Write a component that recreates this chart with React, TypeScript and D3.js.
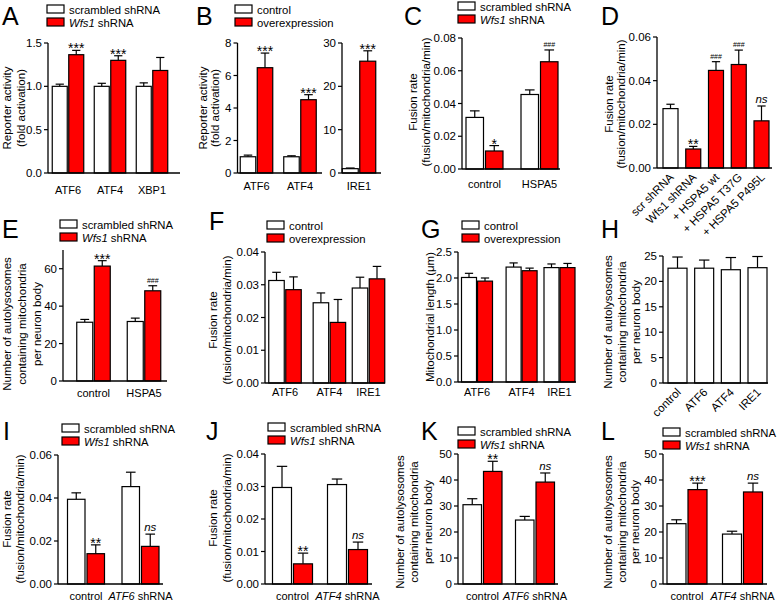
import React from "react";
import * as d3 from "d3";

const FONT = "'Liberation Sans', Arial, Helvetica, sans-serif";
const RED = "#ff0000";
const WHITE = "#ffffff";

// ---------- data ----------
// A
const aCats = ["ATF6", "ATF4", "XBP1"];
const aScr = [1.0, 1.0, 1.0];
const aScrErr = [0.025, 0.035, 0.04];
const aWfs = [1.365, 1.3, 1.183];
const aWfsErr = [0.05, 0.053, 0.15];
const aWfsSig = ["***", "***", ""];
// B
const bCats = ["ATF6", "ATF4"];
const bCtl = [1.0, 1.0];
const bCtlErr = [0.1, 0.06];
const bOe = [6.48, 4.51];
const bOeErr = [0.9, 0.31];
const bOeSig = ["***", "***"];
const b2Cats = ["IRE1"];
const b2Ctl = [1.0];
const b2CtlErr = [0.15];
const b2Oe = [25.8];
const b2OeErr = [2.4];
const b2OeSig = ["***"];
// C
const cCats = ["control", "HSPA5"];
const cScr = [0.0315, 0.0455];
const cScrErr = [0.004, 0.0028];
const cWfs = [0.011, 0.0655];
const cWfsErr = [0.0033, 0.0072];
const cWfsSig = ["*", "###"];
// D
const dCats = ["scr shRNA", "Wfs1 shRNA", "+ HSPA5 wt", "+ HSPA5 T37G", "+ HSPA5 P495L"];
const dVals = [0.0272, 0.0087, 0.0447, 0.0474, 0.0216];
const dErr = [0.002, 0.0012, 0.004, 0.0066, 0.0068];
const dSig = ["", "**", "###", "###", "ns"];
// E
const eCats = ["control", "HSPA5"];
const eScr = [31.4, 31.8];
const eScrErr = [1.5, 1.8];
const eWfs = [61.4, 48.2];
const eWfsErr = [2.9, 2.7];
const eWfsSig = ["***", "###"];
// F
const fCats = ["ATF6", "ATF4", "IRE1"];
const fCtl = [0.0313, 0.0245, 0.029];
const fCtlErr = [0.0025, 0.003, 0.0033];
const fOe = [0.0285, 0.0185, 0.0318];
const fOeErr = [0.0039, 0.007, 0.0038];
// G
const gCats = ["ATF6", "ATF4", "IRE1"];
const gCtl = [2.01, 2.21, 2.2];
const gCtlErr = [0.08, 0.08, 0.07];
const gOe = [1.94, 2.14, 2.2];
const gOeErr = [0.06, 0.05, 0.08];
// H
const hCats = ["control", "ATF6", "ATF4", "IRE1"];
const hVals = [22.6, 22.6, 22.3, 22.7];
const hErr = [2.2, 1.6, 2.4, 2.2];
// I
const iCats = ["control", "_ATF6_ shRNA"];
const iScr = [0.0394, 0.0453];
const iScrErr = [0.003, 0.0067];
const iWfs = [0.0141, 0.0175];
const iWfsErr = [0.0041, 0.0057];
const iWfsSig = ["**", "ns"];
// J
const jCats = ["control", "_ATF4_ shRNA"];
const jScr = [0.0297, 0.0306];
const jScrErr = [0.0065, 0.0017];
const jWfs = [0.0062, 0.0106];
const jWfsErr = [0.0033, 0.0023];
const jWfsSig = ["**", "ns"];
// K
const kCats = ["control", "_ATF6_ shRNA"];
const kScr = [30.5, 24.6];
const kScrErr = [2.3, 1.4];
const kWfs = [43.3, 39.2];
const kWfsErr = [3.9, 3.5];
const kWfsSig = ["**", "ns"];
// L
const lCats = ["control", "_ATF4_ shRNA"];
const lScr = [23.2, 19.2];
const lScrErr = [1.5, 1.1];
const lWfs = [36.3, 35.4];
const lWfsErr = [2.5, 3.4];
const lWfsSig = ["***", "ns"];

const LEG_SH = ["scrambled shRNA", "_Wfs1_ shRNA"];
const LEG_OE = ["control", "overexpression"];
const TITLE_FUSION = ["Fusion rate", "(fusion/mitochondria/min)"];
const TITLE_AUTO = ["Number of autolysosomes", "containing mitochondria", "per neuron body"];
const TITLE_REP = ["Reporter activity", "(fold activation)"];

// ---------- helpers ----------
function rich(s: string) {
  return s.split("_").map((p, i) =>
    p ? (
      <tspan key={i} fontStyle={i % 2 === 1 ? "italic" : "normal"}>
        {p}
      </tspan>
    ) : null
  );
}

type Series = { values: number[]; errs: number[]; fill: string | string[]; sig?: string[] };
type Spec = {
  letter?: { t: string; x: number; y: number };
  legend?: { x: number; y: number; labels: string[] };
  title?: { lines: string[]; xs: number[]; cy: number };
  ax: number; x1: number; top: number; bottom: number; max: number;
  ticks: number[]; fmt: string;
  cats: string[]; c0: number; c1: number; slots?: number[];
  barW: number; gap: number; series: Series[];
  labelY?: number; rotate?: boolean;
};

function Panel({ s }: { s: Spec }) {
  const y = d3.scaleLinear().domain([0, s.max]).range([s.bottom, s.top]);
  const slots = s.slots ?? s.cats.map((_, i) => i);
  const lastSlot = slots[slots.length - 1] || 1;
  const cx = d3.scaleLinear().domain([0, lastSlot]).range([s.c0, s.c1]);
  const fmt = d3.format(s.fmt);
  const nS = s.series.length;
  const totalW = nS * s.barW + (nS - 1) * s.gap;
  const out: React.ReactNode[] = [];

  s.cats.forEach((cat, i) => {
    const c = cx(slots[i]);
    s.series.forEach((ser, j) => {
      const v = ser.values[i];
      const e = ser.errs[i];
      const x = c - totalW / 2 + j * (s.barW + s.gap);
      const bc = x + s.barW / 2;
      const fill = Array.isArray(ser.fill) ? ser.fill[i] : ser.fill;
      const yt = y(v + e);
      const capW = s.barW * 0.55;
      out.push(
        <g key={`b${i}-${j}`}>
          <line x1={bc} x2={bc} y1={y(v)} y2={yt} stroke="#000" strokeWidth={1.2} />
          <line x1={bc - capW / 2} x2={bc + capW / 2} y1={yt} y2={yt} stroke="#000" strokeWidth={1.2} />
          <rect x={x} y={y(v)} width={s.barW} height={s.bottom - y(v)} fill={fill} stroke="#000" strokeWidth={1.2} />
        </g>
      );
      const sig = ser.sig ? ser.sig[i] : "";
      if (sig) {
        let el;
        if (sig.includes("#")) {
          el = <text x={bc} y={yt - 3} fontSize={7} textAnchor="middle">{sig}</text>;
        } else if (sig === "ns") {
          el = <text x={bc} y={yt - 3} fontSize={11.5} fontStyle="italic" textAnchor="middle">{sig}</text>;
        } else {
          el = <text x={bc} y={yt + 3} fontSize={14} textAnchor="middle">{sig}</text>;
        }
        out.push(<g key={`s${i}-${j}`}>{el}</g>);
      }
    });
    if (s.rotate) {
      out.push(
        <text key={`l${i}`} transform={`translate(${c + 4},${s.bottom + 10}) rotate(-45)`} fontSize={11.5} textAnchor="end">
          {rich(cat)}
        </text>
      );
    } else {
      out.push(
        <text key={`l${i}`} x={c} y={s.labelY} fontSize={11} textAnchor="middle">
          {rich(cat)}
        </text>
      );
    }
  });

  return (
    <g fontFamily={FONT} fill="#000">
      {s.letter && (
        <text x={s.letter.x} y={s.letter.y} fontSize={25}>
          {s.letter.t}
        </text>
      )}
      {s.legend &&
        s.legend.labels.map((lab, k) => (
          <g key={`lg${k}`}>
            <rect x={s.legend!.x} y={s.legend!.y + k * 13} width={17} height={8} fill={k === 0 ? WHITE : RED} stroke="#000" strokeWidth={1.2} />
            <text x={s.legend!.x + 22} y={s.legend!.y + k * 13 + 9} fontSize={11.3}>
              {rich(lab)}
            </text>
          </g>
        ))}
      {s.title &&
        s.title.lines.map((ln, k) => (
          <text key={`t${k}`} transform={`translate(${s.title!.xs[k]},${s.title!.cy}) rotate(-90)`} dy="0.35em" fontSize={11.5} textAnchor="middle">
            {ln}
          </text>
        ))}
      {out}
      <line x1={s.ax} x2={s.ax} y1={s.top} y2={s.bottom} stroke="#000" strokeWidth={1.3} />
      <line x1={s.ax} x2={s.x1} y1={s.bottom} y2={s.bottom} stroke="#000" strokeWidth={1.3} />
      {s.ticks.map((t) => (
        <g key={`tk${t}`}>
          <line x1={s.ax - 4} x2={s.ax} y1={y(t)} y2={y(t)} stroke="#000" strokeWidth={1.2} />
          <text x={s.ax - 6} y={y(t)} dy="0.35em" fontSize={11.5} textAnchor="end">
            {fmt(t)}
          </text>
        </g>
      ))}
    </g>
  );
}

const specs: Spec[] = [
  {
    letter: { t: "A", x: 2, y: 25 }, legend: { x: 47, y: 5, labels: LEG_SH },
    title: { lines: TITLE_REP, xs: [7, 21], cy: 108 },
    ax: 48, x1: 180, top: 43, bottom: 173, max: 1.5, ticks: [0, 0.5, 1, 1.5], fmt: ".1f",
    cats: aCats, c0: 68, c1: 152, barW: 15, gap: 1.5, labelY: 194,
    series: [
      { values: aScr, errs: aScrErr, fill: WHITE },
      { values: aWfs, errs: aWfsErr, fill: RED, sig: aWfsSig },
    ],
  },
  {
    letter: { t: "B", x: 196, y: 25 }, legend: { x: 235, y: 5, labels: LEG_OE },
    title: { lines: TITLE_REP, xs: [203, 215], cy: 108 },
    ax: 237.5, x1: 322, top: 43, bottom: 173, max: 8, ticks: [0, 2, 4, 6, 8], fmt: "d",
    cats: bCats, c0: 256.5, c1: 300, barW: 15.5, gap: 1.5, labelY: 190,
    series: [
      { values: bCtl, errs: bCtlErr, fill: WHITE },
      { values: bOe, errs: bOeErr, fill: RED, sig: bOeSig },
    ],
  },
  {
    ax: 342, x1: 381, top: 43, bottom: 173, max: 30, ticks: [0, 10, 20, 30], fmt: "d",
    cats: b2Cats, c0: 359, c1: 359, barW: 16, gap: 1.5, labelY: 190,
    series: [
      { values: b2Ctl, errs: b2CtlErr, fill: WHITE },
      { values: b2Oe, errs: b2OeErr, fill: RED, sig: b2OeSig },
    ],
  },
  {
    letter: { t: "C", x: 404, y: 25 }, legend: { x: 458, y: 2, labels: LEG_SH },
    title: { lines: TITLE_FUSION, xs: [413, 426], cy: 102 },
    ax: 462, x1: 560, top: 38, bottom: 169, max: 0.08, ticks: [0, 0.02, 0.04, 0.06, 0.08], fmt: ".2f",
    cats: cCats, c0: 484.5, c1: 539.5, barW: 17.5, gap: 2, labelY: 188,
    series: [
      { values: cScr, errs: cScrErr, fill: WHITE },
      { values: cWfs, errs: cWfsErr, fill: RED, sig: cWfsSig },
    ],
  },
  {
    letter: { t: "D", x: 601, y: 25 },
    title: { lines: TITLE_FUSION, xs: [609, 621], cy: 104 },
    ax: 657, x1: 772, top: 37, bottom: 168, max: 0.06, ticks: [0, 0.02, 0.04, 0.06], fmt: ".2f",
    cats: dCats, c0: 670.5, c1: 761.5, barW: 15, gap: 0, rotate: true,
    series: [{ values: dVals, errs: dErr, fill: [WHITE, RED, RED, RED, RED], sig: dSig }],
  },
  {
    letter: { t: "E", x: 2, y: 238 }, legend: { x: 60, y: 220, labels: LEG_SH },
    title: { lines: TITLE_AUTO, xs: [7, 22, 37], cy: 324 },
    ax: 63, x1: 167, top: 250, bottom: 381, max: 70, ticks: [0, 20, 40, 60], fmt: "d",
    cats: eCats, c0: 93.5, c1: 144, barW: 16, gap: 1.5, labelY: 397,
    series: [
      { values: eScr, errs: eScrErr, fill: WHITE },
      { values: eWfs, errs: eWfsErr, fill: RED, sig: eWfsSig },
    ],
  },
  {
    letter: { t: "F", x: 209, y: 230 }, legend: { x: 267, y: 221, labels: LEG_OE },
    title: { lines: TITLE_FUSION, xs: [213, 227], cy: 320 },
    ax: 265, x1: 385, top: 252, bottom: 383, max: 0.04, ticks: [0, 0.01, 0.02, 0.03, 0.04], fmt: ".2f",
    cats: fCats, c0: 285, c1: 368.5, slots: [0, 1, 1.88], barW: 15.5, gap: 1.5, labelY: 396,
    series: [
      { values: fCtl, errs: fCtlErr, fill: WHITE },
      { values: fOe, errs: fOeErr, fill: RED },
    ],
  },
  {
    letter: { t: "G", x: 421, y: 238 }, legend: { x: 462, y: 221, labels: LEG_OE },
    title: { lines: ["Mitochondrial length (μm)"], xs: [430], cy: 317 },
    ax: 458, x1: 576, top: 252, bottom: 382, max: 2.5, ticks: [0, 0.5, 1, 1.5, 2, 2.5], fmt: ".1f",
    cats: gCats, c0: 477, c1: 559.5, slots: [0, 1, 1.85], barW: 15, gap: 1, labelY: 396,
    series: [
      { values: gCtl, errs: gCtlErr, fill: WHITE },
      { values: gOe, errs: gOeErr, fill: RED },
    ],
  },
  {
    letter: { t: "H", x: 601, y: 238 },
    title: { lines: TITLE_AUTO, xs: [608, 622, 636], cy: 322 },
    ax: 663, x1: 768, top: 256, bottom: 383, max: 25, ticks: [0, 5, 10, 15, 20, 25], fmt: "d",
    cats: hCats, c0: 677.5, c1: 757.5, barW: 19, gap: 0, rotate: true,
    series: [{ values: hVals, errs: hErr, fill: WHITE }],
  },
  {
    letter: { t: "I", x: 3, y: 440 }, legend: { x: 62, y: 424, labels: LEG_SH },
    title: { lines: TITLE_FUSION, xs: [7, 20], cy: 519 },
    ax: 58, x1: 163, top: 455, bottom: 584, max: 0.06, ticks: [0, 0.02, 0.04, 0.06], fmt: ".2f",
    cats: iCats, c0: 86, c1: 140.5, barW: 17.5, gap: 2, labelY: 600,
    series: [
      { values: iScr, errs: iScrErr, fill: WHITE },
      { values: iWfs, errs: iWfsErr, fill: RED, sig: iWfsSig },
    ],
  },
  {
    letter: { t: "J", x: 206, y: 440 }, legend: { x: 268, y: 423, labels: LEG_SH },
    title: { lines: TITLE_FUSION, xs: [213, 227], cy: 518 },
    ax: 265, x1: 372, top: 454, bottom: 584, max: 0.04, ticks: [0, 0.01, 0.02, 0.03, 0.04], fmt: ".2f",
    cats: jCats, c0: 292.5, c1: 347.5, barW: 19, gap: 2, labelY: 600,
    series: [
      { values: jScr, errs: jScrErr, fill: WHITE },
      { values: jWfs, errs: jWfsErr, fill: RED, sig: jWfsSig },
    ],
  },
  {
    letter: { t: "K", x: 421, y: 440 }, legend: { x: 458, y: 427, labels: LEG_SH },
    title: { lines: TITLE_AUTO, xs: [400, 414, 428], cy: 522 },
    ax: 458, x1: 558, top: 454, bottom: 584, max: 50, ticks: [0, 10, 20, 30, 40, 50], fmt: "d",
    cats: kCats, c0: 482.5, c1: 535, barW: 18.5, gap: 2, labelY: 600,
    series: [
      { values: kScr, errs: kScrErr, fill: WHITE },
      { values: kWfs, errs: kWfsErr, fill: RED, sig: kWfsSig },
    ],
  },
  {
    letter: { t: "L", x: 601, y: 440 }, legend: { x: 663, y: 428, labels: LEG_SH },
    title: { lines: TITLE_AUTO, xs: [608, 622, 635], cy: 522 },
    ax: 663, x1: 767, top: 454, bottom: 584, max: 50, ticks: [0, 10, 20, 30, 40, 50], fmt: "d",
    cats: lCats, c0: 687, c1: 742.5, barW: 19, gap: 2, labelY: 600,
    series: [
      { values: lScr, errs: lScrErr, fill: WHITE },
      { values: lWfs, errs: lWfsErr, fill: RED, sig: lWfsSig },
    ],
  },
];

export default function App() {
  return (
    <svg
      width={781}
      height={602}
      viewBox="0 0 781 602"
      style={{ position: "absolute", left: 0, top: 0, background: "#fff" }}
    >
      <rect x={0} y={0} width={781} height={602} fill="#fff" />
      {specs.map((s, i) => (
        <Panel key={i} s={s} />
      ))}
    </svg>
  );
}
